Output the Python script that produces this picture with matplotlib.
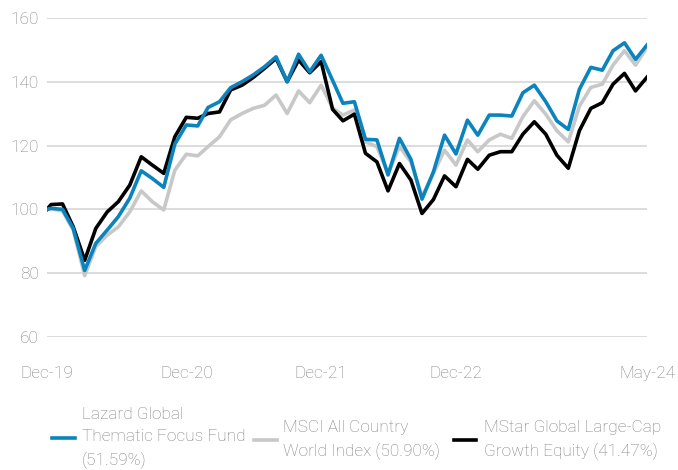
import pandas as pd
import numpy as np
import matplotlib
matplotlib.use('Agg')
import matplotlib.pyplot as plt
from matplotlib.lines import Line2D

# first point is the start value, then month ends Dec-19 .. May-24
dates = pd.DatetimeIndex(['2019-12-20']).append(
    pd.date_range('2019-12-31', '2024-05-31', freq='ME'))

fund = [100.0, 100.3, 100.0, 94.0, 80.8, 89.3, 93.5, 97.7, 103.5, 112.1,
        109.7, 106.9, 120.5, 126.5, 126.2, 132.0, 133.8, 138.2, 140.1, 142.2,
        144.8, 147.9, 140.1, 148.7, 143.2, 148.4, 140.5, 133.3, 133.8, 122.0,
        121.8, 110.8, 122.3, 115.7, 103.2, 111.8, 123.3, 117.4, 128.0, 123.3,
        129.6, 129.6, 129.3, 136.6, 139.0, 133.8, 127.8, 125.1, 137.7, 144.6,
        143.7, 149.8, 152.3, 147.1, 151.6]
msci = [100.0, 100.2, 99.5, 93.5, 79.2, 88.3, 91.9, 94.5, 99.2, 105.8,
        102.4, 99.8, 112.3, 117.3, 116.8, 119.7, 122.8, 128.1, 130.1, 131.7,
        132.7, 135.9, 130.1, 137.2, 133.5, 139.0, 131.8, 129.6, 131.2, 121.2,
        119.7, 111.3, 119.7, 114.9, 104.0, 111.3, 118.6, 113.9, 121.8, 118.1,
        121.8, 123.6, 122.3, 129.1, 134.1, 129.9, 124.7, 121.2, 132.4, 138.3,
        139.3, 145.3, 149.8, 145.3, 150.9]
mstar = [100.0, 101.5, 101.7, 94.5, 84.0, 94.0, 99.2, 102.4, 107.6, 116.5,
         113.9, 111.3, 122.8, 128.9, 128.6, 130.1, 130.6, 137.5, 139.0, 141.4,
         144.3, 147.4, 140.1, 146.9, 142.9, 146.4, 131.4, 127.8, 129.9, 117.6,
         114.9, 105.8, 114.4, 109.2, 98.7, 103.1, 110.5, 107.1, 115.7, 112.6,
         117.0, 118.1, 118.1, 123.6, 127.5, 123.6, 117.0, 112.9, 124.7, 131.7,
         133.5, 139.3, 142.7, 137.2, 141.5]

labels = ['Lazard Global\nThematic Focus Fund\n(51.59%)',
          'MSCI All Country\nWorld Index (50.90%)',
          'MStar Global Large-Cap\nGrowth Equity (41.47%)']
colors = ['#0b84bd', '#c8c8c8', '#000000']

tick_dates = [dates[0], pd.Timestamp('2020-12-31'), pd.Timestamp('2021-12-31'),
              pd.Timestamp('2022-12-31'), dates[-1]]
tick_labels = ['Dec-19', 'Dec-20', 'Dec-21', 'Dec-22', 'May-24']
y_ticks = [60, 80, 100, 120, 140, 160]

plt.rcParams['font.family'] = ['Roboto', 'DejaVu Sans']
txt_col = '#808080'

W, H = 678, 470
fig = plt.figure(figsize=(W / 100, H / 100), dpi=100)
ax = fig.add_axes([47 / W, 1 - 336.7 / H, 600 / W, 318.4 / H])

ax.plot(dates, msci, color=colors[1], lw=2.6, solid_joinstyle='round', zorder=3)
ax.plot(dates, mstar, color=colors[2], lw=2.6, solid_joinstyle='round', zorder=4)
ax.plot(dates, fund, color=colors[0], lw=2.6, solid_joinstyle='round', zorder=5)

ax.set_ylim(60, 160)
ax.set_xlim(dates[0], dates[-1])
ax.set_yticks(y_ticks)
ax.set_xticks(tick_dates)
ax.set_xticklabels(tick_labels)
ax.grid(axis='y', color='#dadada', lw=1.3)
ax.set_axisbelow(True)
for s in ax.spines.values():
    s.set_visible(False)
ax.tick_params(axis='both', length=0, labelsize=12.4, labelcolor=txt_col)
ax.tick_params(axis='x', pad=21)
ax.tick_params(axis='y', pad=6)
for t in ax.get_xticklabels() + ax.get_yticklabels():
    t.set_fontweight('light')

# legend built by hand: handle + multi-line label, centred vertically
leg_x = [(52, 75, 82, 438), (254, 277, 283, 440), (454, 476, 484, 440)]
for (x0, x1, xt, yc), lab, c in zip(leg_x, labels, colors):
    fig.add_artist(Line2D([x0 / W, x1 / W], [1 - yc / H, 1 - yc / H],
                          color=c, lw=2.6, transform=fig.transFigure))
    fig.text(xt / W, 1 - yc / H, lab, ha='left', va='center', fontsize=12.4,
             color=txt_col, fontweight='light', linespacing=1.55)

fig.savefig('out.png', dpi=100)
